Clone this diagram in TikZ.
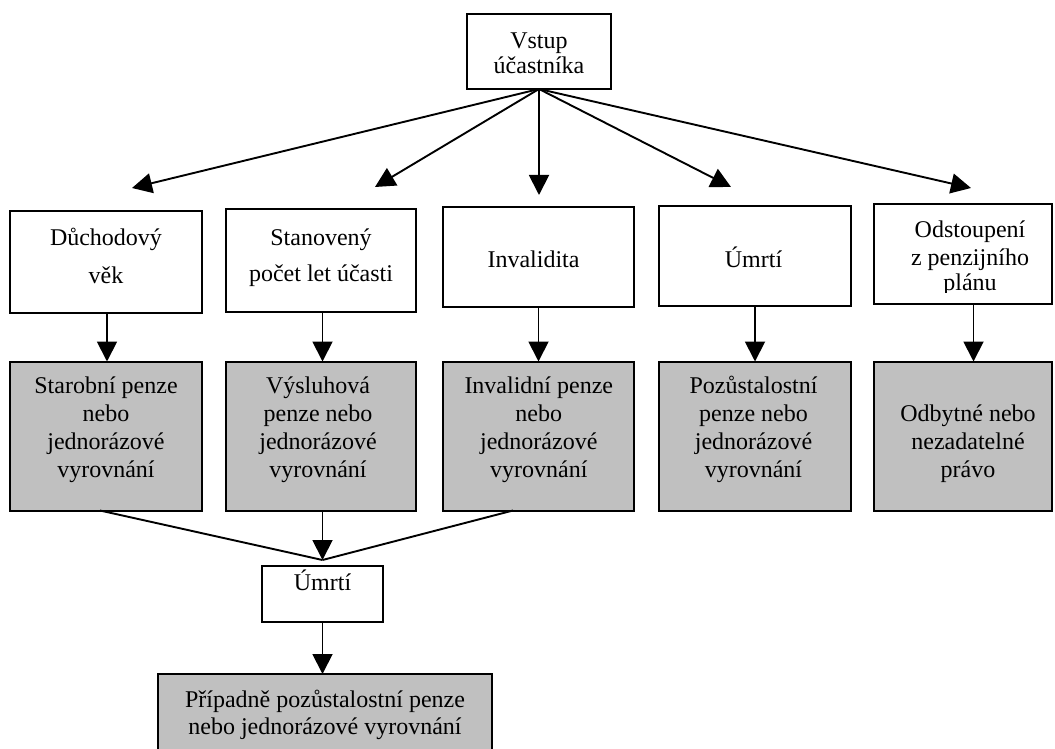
\documentclass[tikz,border=0pt]{standalone}
\usepackage{fontspec}
\setmainfont{Liberation Serif}
\usetikzlibrary{arrows.meta,calc}
\definecolor{boxgray}{RGB}{192,192,192}
% centred lines whose baseline is that of the first line
\newcommand{\txtrows}[1]{\begin{tabular}[t]{@{}c@{}}#1\end{tabular}}
\begin{document}
\begin{tikzpicture}[x=0.5pt,y=-0.5pt,
  box/.style={draw=black,line width=1pt,inner sep=0pt,outer sep=0pt,fill=white},
  grey/.style={box,fill=boxgray},
  txt/.style={inner sep=0pt,anchor=base,font=\fontsize{12pt}{14pt}\selectfont},
  arr/.style={draw=black,line width=0.95pt,-{Triangle[length=10pt,width=10pt]}},
  mergeline/.style={draw=black,line width=0.95pt}]
\useasboundingbox (0,0) rectangle (1055,749);
\clip (0,0) rectangle (1055,749);

% ---- boxes ----
\node[box,minimum width=72pt,minimum height=37.5pt] (top) at (539,51.5) {};

\node[box,minimum width=96pt,minimum height=51pt]     (r1a) at (106,262) {};
\node[box,minimum width=95pt,minimum height=51.25pt]  (r1b) at (321,260.25) {};
\node[box,minimum width=95.5pt,minimum height=49.75pt](r1c) at (538.5,256.75) {};
\node[box,minimum width=96pt,minimum height=50pt]     (r1d) at (755,256) {};
\node[box,minimum width=89pt,minimum height=50pt]     (r1e) at (963,254) {};

\node[grey,minimum width=96pt,minimum height=74.5pt]  (r2a) at (106,436) {};
\node[grey,minimum width=95pt,minimum height=74.5pt]  (r2b) at (321,436) {};
\node[grey,minimum width=95.5pt,minimum height=74.5pt](r2c) at (538.5,436) {};
\node[grey,minimum width=96pt,minimum height=74.5pt]  (r2d) at (755,436) {};
\node[grey,minimum width=89pt,minimum height=74.5pt]  (r2e) at (963,436) {};

\node[box,minimum width=60.5pt,minimum height=28pt]   (um)  at (322.5,594) {};
\node[grey,minimum width=167pt,minimum height=43pt]   (fin) at (325,717) {};

% ---- texts ----
\node[txt] (ttop) at (539,48.3) {\txtrows{Vstup\\[-1.15pt] účastníka}};
\node[txt] (t1a) at (106,245.5) {\txtrows{Důchodový\\[5pt] věk}};
\node[txt] (t1b) at (321,245) {\txtrows{Stanovený\\[4pt] počet let účasti}};
\node[txt] (t1c) at (533.5,267.5) {Invalidita};
\node[txt] (t1d) at (753.5,267.5) {Úmrtí};
\begin{scope}
  \clip (874,204) rectangle (1052,292.5);
  \node[txt] (t1e) at (970,237.5) {\txtrows{Odstoupení\\ z penzijního\\[-1.3pt] plánu}};
\end{scope}

\node[txt] (t2a) at (106,393.5) {\txtrows{Starobní penze\\ nebo\\ jednorázové\\ vyrovnání}};
\node[txt] (t2b) at (318,393.5) {\txtrows{Výsluhová\\ penze nebo\\ jednorázové\\ vyrovnání}};
\node[txt] (t2c) at (538.8,393.5) {\txtrows{Invalidní penze\\ nebo\\ jednorázové\\ vyrovnání}};
\node[txt] (t2d) at (753.5,393.5) {\txtrows{Pozůstalostní\\ penze nebo\\ jednorázové\\ vyrovnání}};
\node[txt] (t2e) at (968,421.5) {\txtrows{Odbytné nebo\\ nezadatelné\\ právo}};

\node[txt] (tum) at (322.5,590) {Úmrtí};
\node[txt] (tfin) at (325,707.3) {\txtrows{Případně pozůstalostní penze\\[-0.65pt] nebo jednorázové vyrovnání}};

% ---- arrow ends and columns ----
\coordinate (e1) at (132,188);
\coordinate (e2) at (375,187);
\coordinate (e3) at (539,195);
\coordinate (e4) at (731,187);
\coordinate (e5) at (971,188);

\coordinate (c1) at (107,0);
\coordinate (c2) at (322.5,0);
\coordinate (c3) at (538.5,0);
\coordinate (c4) at (755,0);
\coordinate (c5) at (973.5,0);

\coordinate (meet) at (322.5,560);
\coordinate (jl) at (100,0);
\coordinate (jr) at (513,0);

% ---- connectors ----
\foreach \e in {e1,e2,e3,e4,e5}
  \draw[arr] (top.south) -- (\e);

\draw[arr] (r1a.south -| c1) -- (r2a.north -| c1);
\draw[arr] (r1b.south -| c2) -- (r2b.north -| c2);
\draw[arr] (r1c.south -| c3) -- (r2c.north -| c3);
\draw[arr] (r1d.south -| c4) -- (r2d.north -| c4);
\draw[arr] (r1e.south -| c5) -- (r2e.north -| c5);

\draw[mergeline] (r2a.south -| jl) -- (meet);
\draw[mergeline] (r2c.south -| jr) -- (meet);
\draw[arr] (r2b.south -| meet) -- (meet);
\draw[arr] (um.south -| meet) -- (fin.north -| meet);
\end{tikzpicture}
\end{document}
